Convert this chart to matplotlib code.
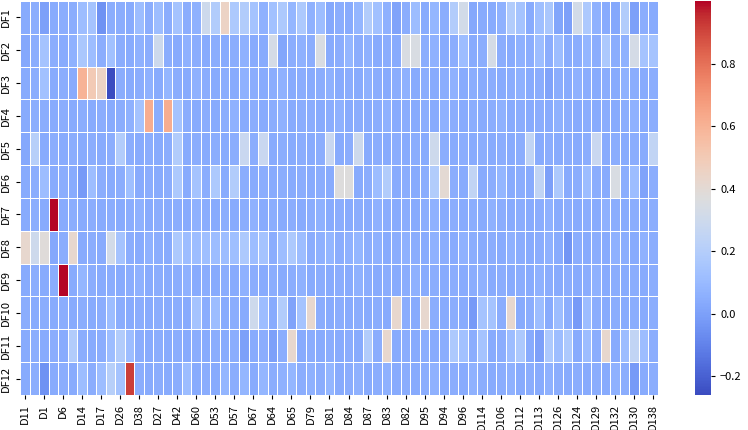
import matplotlib
matplotlib.use('Agg')
import numpy as np
import pandas as pd
import matplotlib.pyplot as plt
import seaborn as sns

plt.rcParams['font.family'] = ['Noto Sans CJK SC', 'DejaVu Sans']

rows = ['DF1', 'DF2', 'DF3', 'DF4', 'DF5', 'DF6', 'DF7', 'DF8', 'DF9', 'DF10', 'DF11', 'DF12']

# every second column label is the one visible on the x axis
cols = ['D11', 'D2', 'D1', 'D3', 'D6', 'D4', 'D14', 'D15', 'D17', 'D18',
        'D26', 'D37', 'D38', 'D28', 'D27', 'D41', 'D42', 'D59', 'D60', 'D52',
        'D53', 'D55', 'D57', 'D66', 'D67', 'D63', 'D64', 'D68', 'D65', 'D78',
        'D79', 'D80', 'D81', 'D85', 'D84', 'D86', 'D87', 'D88', 'D83', 'D89',
        'D82', 'D93', 'D95', 'D92', 'D94', 'D97', 'D96', 'D115', 'D114', 'D105',
        'D106', 'D111', 'D112', 'D110', 'D113', 'D125', 'D126', 'D123', 'D124', 'D128',
        'D129', 'D131', 'D132', 'D133', 'D130', 'D137', 'D138']

df1 = [0.04, 0.05, 0.00, 0.04, 0.05, 0.05, 0.11, 0.14, -0.05, 0.05,
       0.05, 0.04, 0.11, 0.05, 0.11, 0.05, 0.14, 0.05, 0.06, 0.30,
       0.19, 0.45, 0.17, 0.19, 0.14, 0.06, 0.13, 0.17, 0.08, 0.17,
       0.06, 0.11, 0.03, 0.05, 0.04, 0.08, 0.19, 0.13, 0.06, 0.01,
       0.05, 0.11, 0.04, 0.08, 0.05, 0.19, 0.32, 0.03, 0.04, 0.04,
       0.06, 0.19, 0.14, 0.04, 0.12, 0.16, 0.02, 0.00, 0.32, 0.17,
       0.06, 0.04, 0.03, 0.19, 0.00, 0.05, 0.04]
df2 = [0.03, 0.05, 0.14, 0.05, 0.04, 0.06, 0.16, 0.11, 0.05, 0.13,
       0.05, 0.04, 0.06, 0.05, 0.30, 0.05, 0.04, 0.06, 0.05, 0.04,
       0.05, 0.04, 0.05, 0.06, 0.04, 0.04, 0.33, 0.02, 0.05, 0.06,
       0.05, 0.35, 0.04, 0.05, 0.08, 0.05, 0.06, 0.04, 0.05, 0.04,
       0.35, 0.35, 0.05, 0.06, 0.04, 0.05, 0.11, 0.04, 0.05, 0.33,
       0.05, 0.04, 0.06, 0.05, 0.11, 0.05, 0.11, 0.04, 0.05, 0.08,
       0.05, 0.17, 0.05, 0.06, 0.33, 0.14, 0.14]
df3 = [0.04, 0.05, 0.13, 0.04, 0.05, 0.04, 0.60, 0.50, 0.45, -0.26,
       0.05, 0.04, 0.05, 0.06, 0.04, 0.08, 0.05, 0.04, 0.06, 0.05,
       0.04, 0.05, 0.04, 0.06, 0.05, 0.04, 0.05, 0.06, 0.04, 0.05,
       0.04, 0.05, 0.06, 0.04, 0.05, 0.04, 0.06, 0.05, 0.04, 0.05,
       0.06, 0.04, 0.05, 0.04, 0.05, 0.06, 0.04, 0.05, 0.04, 0.05,
       0.04, 0.05, 0.06, 0.04, 0.05, 0.01, 0.05, 0.04, 0.06, 0.05,
       0.04, 0.05, 0.04, 0.06, 0.05, 0.04, 0.05]
df4 = [0.04, 0.05, 0.05, 0.04, 0.05, 0.04, 0.05, 0.04, 0.05, 0.04,
       0.05, 0.06, 0.14, 0.62, 0.05, 0.62, 0.14, 0.05, 0.04, 0.05,
       0.04, 0.05, 0.06, 0.04, 0.05, 0.04, 0.05, 0.06, 0.04, 0.05,
       0.05, 0.04, 0.05, 0.06, 0.04, 0.05, 0.04, 0.05, 0.06, 0.04,
       0.05, 0.04, 0.05, 0.04, 0.06, 0.05, 0.04, 0.05, 0.04, 0.05,
       0.06, 0.04, 0.05, 0.04, 0.05, 0.04, 0.06, 0.05, 0.04, 0.05,
       0.04, 0.05, 0.04, 0.05, 0.06, 0.04, 0.05]
df5 = [0.03, 0.21, 0.04, 0.05, 0.04, 0.05, 0.04, 0.05, 0.04, 0.05,
       0.19, 0.05, 0.04, 0.05, 0.04, 0.05, 0.19, 0.04, 0.05, 0.04,
       0.05, 0.04, 0.05, 0.28, 0.05, 0.28, 0.04, 0.05, 0.04, 0.05,
       0.04, 0.05, 0.28, 0.04, 0.05, 0.30, 0.04, 0.05, 0.04, 0.05,
       0.04, 0.05, 0.04, 0.30, 0.05, 0.04, 0.05, 0.04, 0.05, 0.04,
       0.05, 0.04, 0.05, 0.25, 0.04, 0.05, 0.04, 0.05, 0.04, 0.05,
       0.28, 0.04, 0.05, 0.04, 0.05, 0.04, 0.25]
df6 = [0.04, 0.05, 0.11, 0.04, 0.05, 0.04, -0.02, 0.11, 0.05, 0.04,
       0.05, 0.12, 0.04, 0.05, 0.04, 0.05, 0.17, 0.04, 0.14, 0.05,
       0.17, 0.04, 0.19, 0.05, 0.04, 0.05, 0.04, 0.05, 0.04, 0.05,
       0.04, 0.05, 0.04, 0.37, 0.37, 0.04, 0.05, 0.11, 0.19, 0.04,
       0.05, 0.04, 0.05, 0.19, 0.40, 0.05, 0.04, 0.25, 0.04, 0.05,
       0.08, 0.04, 0.05, 0.04, 0.25, 0.00, 0.17, 0.04, 0.05, 0.11,
       0.05, 0.04, 0.35, 0.05, 0.11, 0.01, 0.05]
df7 = [0.04, 0.05, 0.04, 1.00, 0.04, 0.05, 0.04, 0.05, 0.04, 0.05,
       0.04, 0.05, 0.06, 0.04, 0.05, 0.04, 0.05, 0.04, 0.06, 0.05,
       0.04, 0.05, 0.04, 0.05, 0.06, 0.04, 0.05, 0.04, 0.05, 0.04,
       0.05, 0.06, 0.04, 0.05, 0.04, 0.05, 0.04, 0.06, 0.05, 0.04,
       0.05, 0.04, 0.05, 0.06, 0.04, 0.05, 0.04, 0.05, 0.04, 0.06,
       0.05, 0.04, 0.05, 0.04, 0.05, 0.06, 0.04, 0.05, 0.04, 0.05,
       0.04, 0.06, 0.05, 0.04, 0.05, 0.04, 0.05]
df8 = [0.42, 0.30, 0.38, 0.03, 0.05, 0.42, 0.04, 0.05, 0.04, 0.32,
       0.14, 0.05, 0.04, 0.06, 0.05, 0.04, 0.17, 0.11, 0.11, 0.12,
       0.11, 0.11, 0.12, 0.17, 0.11, 0.14, 0.05, 0.11, 0.17, 0.11,
       0.05, 0.06, 0.08, 0.05, 0.06, 0.08, 0.05, 0.06, 0.04, 0.05,
       0.06, 0.05, 0.04, 0.06, 0.05, 0.04, 0.06, 0.05, 0.04, 0.05,
       0.04, 0.06, 0.05, 0.04, 0.05, 0.06, 0.04, -0.04, 0.05, 0.04,
       0.05, 0.04, 0.06, 0.05, 0.04, 0.06, 0.05]
df9 = [0.04, 0.05, 0.04, 0.05, 1.00, 0.04, 0.08, 0.05, 0.04, 0.05,
       0.04, 0.05, 0.06, 0.04, 0.05, 0.04, 0.05, 0.06, 0.04, 0.05,
       0.04, 0.05, 0.04, 0.06, 0.05, 0.04, 0.05, 0.04, 0.05, 0.06,
       0.04, 0.05, 0.04, 0.05, 0.04, 0.06, 0.05, 0.04, 0.05, 0.04,
       0.05, 0.06, 0.04, 0.05, 0.04, 0.05, 0.04, 0.05, 0.06, 0.04,
       0.05, 0.04, 0.05, 0.04, 0.06, 0.05, 0.04, 0.05, 0.04, 0.05,
       0.06, 0.04, 0.05, 0.04, 0.05, 0.04, 0.05]
df10 = [0.05, 0.04, 0.05, 0.04, 0.05, 0.04, 0.05, 0.04, 0.05, 0.11,
        0.05, 0.04, 0.05, 0.04, 0.05, 0.04, 0.05, 0.04, 0.14, 0.05,
        0.11, 0.04, 0.05, 0.04, 0.30, 0.11, 0.04, 0.19, 0.01, 0.14,
        0.42, 0.05, 0.04, 0.05, 0.04, 0.05, 0.04, 0.05, 0.04, 0.42,
        0.05, 0.04, 0.42, 0.05, 0.04, 0.05, 0.04, -0.02, 0.14, 0.14,
        0.05, 0.42, 0.04, 0.05, 0.11, 0.04, 0.11, 0.05, -0.02, 0.11,
        0.05, 0.04, 0.05, 0.04, 0.05, 0.04, 0.05]
df11 = [0.04, 0.05, 0.04, 0.05, 0.04, 0.19, 0.05, 0.04, 0.05, 0.11,
        0.19, 0.11, 0.05, 0.04, 0.05, 0.04, 0.05, 0.04, 0.05, 0.04,
        0.05, 0.04, 0.05, 0.00, 0.04, 0.05, 0.00, 0.05, 0.42, 0.04,
        0.05, 0.04, 0.05, 0.04, 0.05, 0.04, 0.19, 0.05, 0.42, 0.04,
        0.05, 0.04, 0.05, 0.04, 0.05, 0.17, 0.13, 0.05, 0.14, 0.04,
        0.05, 0.11, 0.17, 0.04, 0.00, 0.17, 0.11, 0.17, 0.04, 0.11,
        0.05, 0.42, 0.04, 0.11, 0.25, 0.11, 0.05]
df12 = [0.04, 0.05, -0.05, 0.04, 0.05, 0.04, 0.11, 0.05, 0.11, 0.21,
        0.14, 0.92, 0.05, 0.04, 0.05, 0.04, 0.05, 0.11, 0.04, 0.05,
        0.04, 0.08, 0.05, 0.08, 0.04, 0.08, 0.05, 0.06, 0.08, 0.05,
        0.06, 0.05, 0.08, 0.04, 0.05, 0.06, 0.04, 0.05, 0.06, 0.04,
        0.05, 0.04, 0.05, 0.06, 0.04, 0.05, 0.04, 0.06, 0.05, 0.04,
        0.05, 0.06, 0.04, 0.05, 0.04, 0.06, 0.05, 0.04, 0.05, 0.04,
        0.05, 0.04, 0.06, 0.05, -0.02, 0.04, 0.05]

data = pd.DataFrame([df1, df2, df3, df4, df5, df6, df7, df8, df9, df10, df11, df12],
                    index=rows, columns=cols)

fig = plt.figure(figsize=(7.48, 4.30), dpi=100)
ax = fig.add_axes([20 / 748, 35 / 430, 638 / 748, 394 / 430])
cax = fig.add_axes([695 / 748, 35 / 430, 16 / 748, 394 / 430])

sns.heatmap(data, ax=ax, cbar_ax=cax, cmap='coolwarm', linewidths=0.5,
            linecolor='white', xticklabels=2, yticklabels=1)

ax.tick_params(axis='x', labelsize=8, rotation=90, length=3)
ax.tick_params(axis='y', labelsize=8, rotation=90, length=3)
for t in ax.get_yticklabels():
    t.set_va('center')
cax.tick_params(labelsize=8, length=3)
cax.set_yticks([-0.2, 0.0, 0.2, 0.4, 0.6, 0.8])

fig.savefig('out.png', dpi=100)
